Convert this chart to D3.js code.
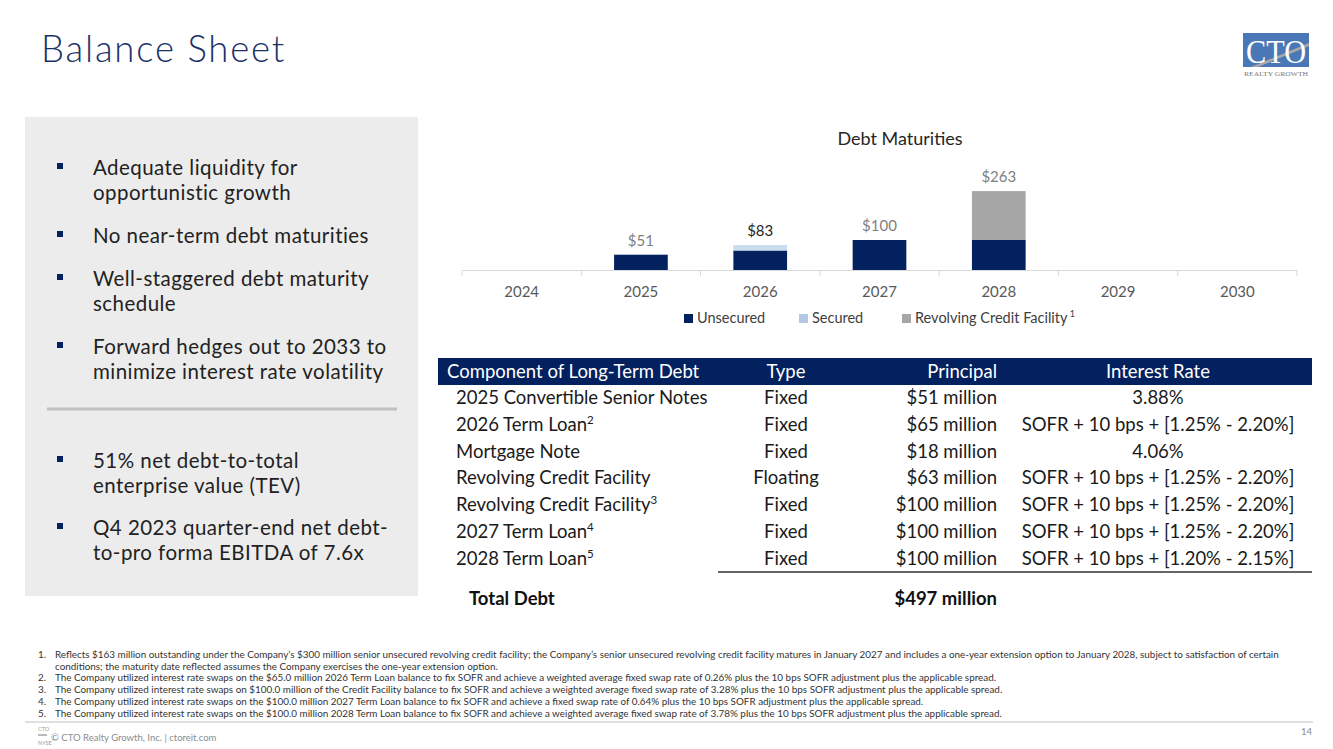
<!DOCTYPE html>
<html><head><meta charset="utf-8">
<script src="https://cdn.jsdelivr.net/npm/d3@7"></script>
<style>
html,body{margin:0;padding:0;background:#fff;}
svg{display:block;font-family:Lato,"Noto Sans",sans-serif;}
</style></head>
<body>
<svg id="slide" width="1333" height="749"></svg>
<script>
// ---------- DATA ----------
const years = ["2024","2025","2026","2027","2028","2029","2030"];
const unsecured = [0,51,65,100,100,0,0];
const secured   = [0,0,18,0,0,0,0];
const revolving = [0,0,0,0,163,0,0];
const totalLabels = ["","$51","$83","$100","$263","",""];
const seriesNames = ["Unsecured","Secured","Revolving Credit Facility"];
const seriesColors = ["#03215f","#c9dbef","#a6a6a6"];

const bulletsTop = [["Adequate liquidity for","opportunistic growth"],["No near-term debt maturities"],["Well-staggered debt maturity","schedule"],["Forward hedges out to 2033 to","minimize interest rate volatility"]];
const bulletsBottom = [["51% net debt-to-total","enterprise value (TEV)"],["Q4 2023 quarter-end net debt-","to-pro forma EBITDA of 7.6x"]];

const tableHeader = ["Component of Long-Term Debt","Type","Principal","Interest Rate"];
const tableComponents = ["2025 Convertible Senior Notes","2026 Term Loan","Mortgage Note","Revolving Credit Facility","Revolving Credit Facility","2027 Term Loan","2028 Term Loan"];
const tableSup = ["","2","","","3","4","5"];
const tableTypes = ["Fixed","Fixed","Fixed","Floating","Fixed","Fixed","Fixed"];
const tablePrincipal = ["$51 million","$65 million","$18 million","$63 million","$100 million","$100 million","$100 million"];
const tableRates = ["3.88%","SOFR + 10 bps + [1.25% - 2.20%]","4.06%","SOFR + 10 bps + [1.25% - 2.20%]","SOFR + 10 bps + [1.25% - 2.20%]","SOFR + 10 bps + [1.25% - 2.20%]","SOFR + 10 bps + [1.20% - 2.15%]"];
const totalDebt = ["Total Debt","$497 million"];

const footnotes = [
 ["1.","Reflects $163 million outstanding under the Company’s $300 million senior unsecured revolving credit facility; the Company’s senior unsecured revolving credit facility matures in January 2027 and includes a one-year extension option to January 2028, subject to satisfaction of certain"],
 ["","conditions; the maturity date reflected assumes the Company exercises the one-year extension option."],
 ["2.","The Company utilized interest rate swaps on the $65.0 million 2026 Term Loan balance to fix SOFR and achieve a weighted average fixed swap rate of 0.26% plus the 10 bps SOFR adjustment plus the applicable spread."],
 ["3.","The Company utilized interest rate swaps on $100.0 million of the Credit Facility balance to fix SOFR and achieve a weighted average fixed swap rate of 3.28% plus the 10 bps SOFR adjustment plus the applicable spread."],
 ["4.","The Company utilized interest rate swaps on the $100.0 million 2027 Term Loan balance to fix SOFR and achieve a fixed swap rate of 0.64% plus the 10 bps SOFR adjustment plus the applicable spread."],
 ["5.","The Company utilized interest rate swaps on the $100.0 million 2028 Term Loan balance to fix SOFR and achieve a weighted average fixed swap rate of 3.78% plus the 10 bps SOFR adjustment plus the applicable spread."]
];

// ---------- DRAW ----------
const svg = d3.select("#slide");
const navy = "#03215f";

// Title
svg.append("text").attr("x",41).attr("y",62).attr("font-size",36.5).attr("fill","#1b3168")
  .attr("font-weight",300).attr("letter-spacing",1.8).text("Balance Sheet");

// Logo
const logo = svg.append("g");
logo.append("rect").attr("x",1243).attr("y",33).attr("width",66).attr("height",34).attr("fill","#4a78b6");
logo.append("path").attr("d","M1251,67 L1309,43 L1309,46 L1258,67 Z").attr("fill","#a9a9a9");
logo.append("text").attr("x",1276).attr("y",63).attr("text-anchor","middle").attr("font-family","'Liberation Serif','DejaVu Serif',serif")
  .attr("font-size",33).attr("fill","#fff").attr("textLength",60).attr("lengthAdjust","spacingAndGlyphs").text("CTO");
logo.append("text").attr("x",1276).attr("y",76).attr("text-anchor","middle").attr("font-family","'Liberation Serif',serif")
  .attr("font-size",7).attr("fill","#777").attr("textLength",64).attr("lengthAdjust","spacingAndGlyphs").text("REALTY GROWTH");

// Left panel
svg.append("rect").attr("x",25).attr("y",117).attr("width",393).attr("height",479).attr("fill","#ececec");
function drawBullets(list, startY, gap){
  let y = startY;
  list.forEach(lines=>{
    svg.append("rect").attr("x",57).attr("y",y-5).attr("width",6).attr("height",6).attr("fill",navy);
    lines.forEach((ln,i)=>{
      svg.append("text").attr("x",93).attr("y",y+7+i*25).attr("font-size",20.5).attr("letter-spacing",0.45).attr("fill","#222").text(ln);
    });
    y += lines.length*25 + gap;
  });
}
drawBullets(bulletsTop, 168, 18);
svg.append("line").attr("x1",47).attr("x2",397).attr("y1",409).attr("y2",409).attr("stroke","#c0c0c0").attr("stroke-width",3);
drawBullets(bulletsBottom, 461, 17);

// Chart
const x = d3.scaleBand().domain(years).range([462,1297]).paddingInner(0.55).paddingOuter(0.275);
const y = d3.scaleLinear().domain([0,300]).range([270,180]);
const data = years.map((yr,i)=>({year:yr, Unsecured:unsecured[i], Secured:secured[i], "Revolving Credit Facility":revolving[i], label:totalLabels[i]}));
const stack = d3.stack().keys(seriesNames)(data);
const chart = svg.append("g");
chart.append("text").attr("x",900).attr("y",145).attr("text-anchor","middle").attr("font-size",18).attr("fill","#262626").text("Debt Maturities");
stack.forEach((s,si)=>{
  chart.append("g").selectAll("rect").data(s.filter(d=>d[1]-d[0]>0)).join("rect")
    .attr("x",d=>x(d.data.year)).attr("width",x.bandwidth())
    .attr("y",d=>y(d[1])).attr("height",d=>y(d[0])-y(d[1])).attr("fill",seriesColors[si]);
});
// axis
const ax = chart.append("g").attr("transform","translate(0,270)")
  .call(d3.axisBottom(x).tickSize(0).tickPadding(16));
ax.select(".domain").attr("stroke","#d9d9d9");
ax.selectAll("text").attr("font-size",15).attr("fill","#595959").attr("font-family","Lato,sans-serif");
const bounds = years.map(yv=>x(yv)-x.step()*x.paddingInner()/2).concat([x(years[years.length-1])+x.bandwidth()+x.step()*x.paddingInner()/2]);
chart.append("g").selectAll("line").data(bounds).join("line")
  .attr("x1",d=>d).attr("x2",d=>d).attr("y1",270).attr("y2",276).attr("stroke","#d9d9d9");
// total labels
chart.append("g").selectAll("text").data(data.filter(d=>d.label)).join("text")
  .attr("x",d=>x(d.year)+x.bandwidth()/2)
  .attr("y",d=>y(d.Unsecured+d.Secured+d["Revolving Credit Facility"])-9)
  .attr("text-anchor","middle").attr("font-size",15)
  .attr("fill",d=>d.year==="2026"?"#262626":"#7f7f7f").text(d=>d.label);
// legend
const legX = [684,799,902];
seriesNames.forEach((n,i)=>{
  chart.append("rect").attr("x",legX[i]).attr("y",314).attr("width",9).attr("height",9).attr("fill",i===1?"#b4c8e6":seriesColors[i]);
  const t = chart.append("text").attr("x",legX[i]+13).attr("y",323).attr("font-size",14.5).attr("fill","#404040").text(n);
  if(i===2) t.append("tspan").attr("font-size",9).attr("dy",-6).text(" 1");
});

// Table
const colX = {comp:456, type:786, princ:997, rate:1158};
const fs = 18.5;
svg.append("rect").attr("x",438).attr("y",358).attr("width",874).attr("height",27).attr("fill","#03215f");
const hx = [447,786,997,1158], ha=["start","middle","end","middle"];
tableHeader.forEach((h,i)=>{
  svg.append("text").attr("x",hx[i]).attr("y",378).attr("text-anchor",ha[i]).attr("font-size",fs).attr("fill","#fff").text(h);
});
tableComponents.forEach((c,i)=>{
  const yy = 404 + i*26.8;
  const t = svg.append("text").attr("x",colX.comp).attr("y",yy).attr("font-size",fs).attr("fill","#1a1a1a").text(c);
  if(tableSup[i]) t.append("tspan").attr("font-size",11.5).attr("dy",-7).text(tableSup[i]);
  svg.append("text").attr("x",colX.type).attr("y",yy).attr("text-anchor","middle").attr("font-size",fs).attr("fill","#1a1a1a").text(tableTypes[i]);
  svg.append("text").attr("x",colX.princ).attr("y",yy).attr("text-anchor","end").attr("font-size",fs).attr("fill","#1a1a1a").text(tablePrincipal[i]);
  svg.append("text").attr("x",colX.rate).attr("y",yy).attr("text-anchor","middle").attr("font-size",fs).attr("fill","#1a1a1a").text(tableRates[i]);
});
svg.append("line").attr("x1",718).attr("x2",1312).attr("y1",572).attr("y2",572).attr("stroke","#333").attr("stroke-width",1.5);
svg.append("text").attr("x",469).attr("y",605).attr("font-size",fs).attr("font-weight",700).attr("fill","#111").text(totalDebt[0]);
svg.append("text").attr("x",997).attr("y",605).attr("text-anchor","end").attr("font-size",fs).attr("font-weight",700).attr("fill","#111").text(totalDebt[1]);

// Footnotes
footnotes.forEach((f,i)=>{
  const yy = 658 + i*11.7;
  if(f[0]) svg.append("text").attr("x",38).attr("y",yy).attr("font-size",9.9).attr("fill","#333").text(f[0]);
  svg.append("text").attr("x",55).attr("y",yy).attr("font-size",9.9).attr("fill","#333").text(f[1]);
});
svg.append("line").attr("x1",25).attr("x2",1313).attr("y1",722).attr("y2",722).attr("stroke","#bfbfbf").attr("stroke-width",1);
// footer
svg.append("text").attr("x",38).attr("y",731).attr("font-size",5.5).attr("fill","#999").text("CTO");
svg.append("line").attr("x1",38).attr("x2",47).attr("y1",735).attr("y2",735).attr("stroke","#bbb").attr("stroke-width",2);
svg.append("text").attr("x",38).attr("y",745).attr("font-size",5.5).attr("fill","#999").text("NYSE");
svg.append("text").attr("x",51).attr("y",741).attr("font-size",9.5).attr("fill","#8c8c8c").text("© CTO Realty Growth, Inc. | ctoreit.com");
svg.append("text").attr("x",1312).attr("y",735).attr("text-anchor","end").attr("font-size",9.5).attr("fill","#8c8c8c").text("14");
</script>
</body></html>
